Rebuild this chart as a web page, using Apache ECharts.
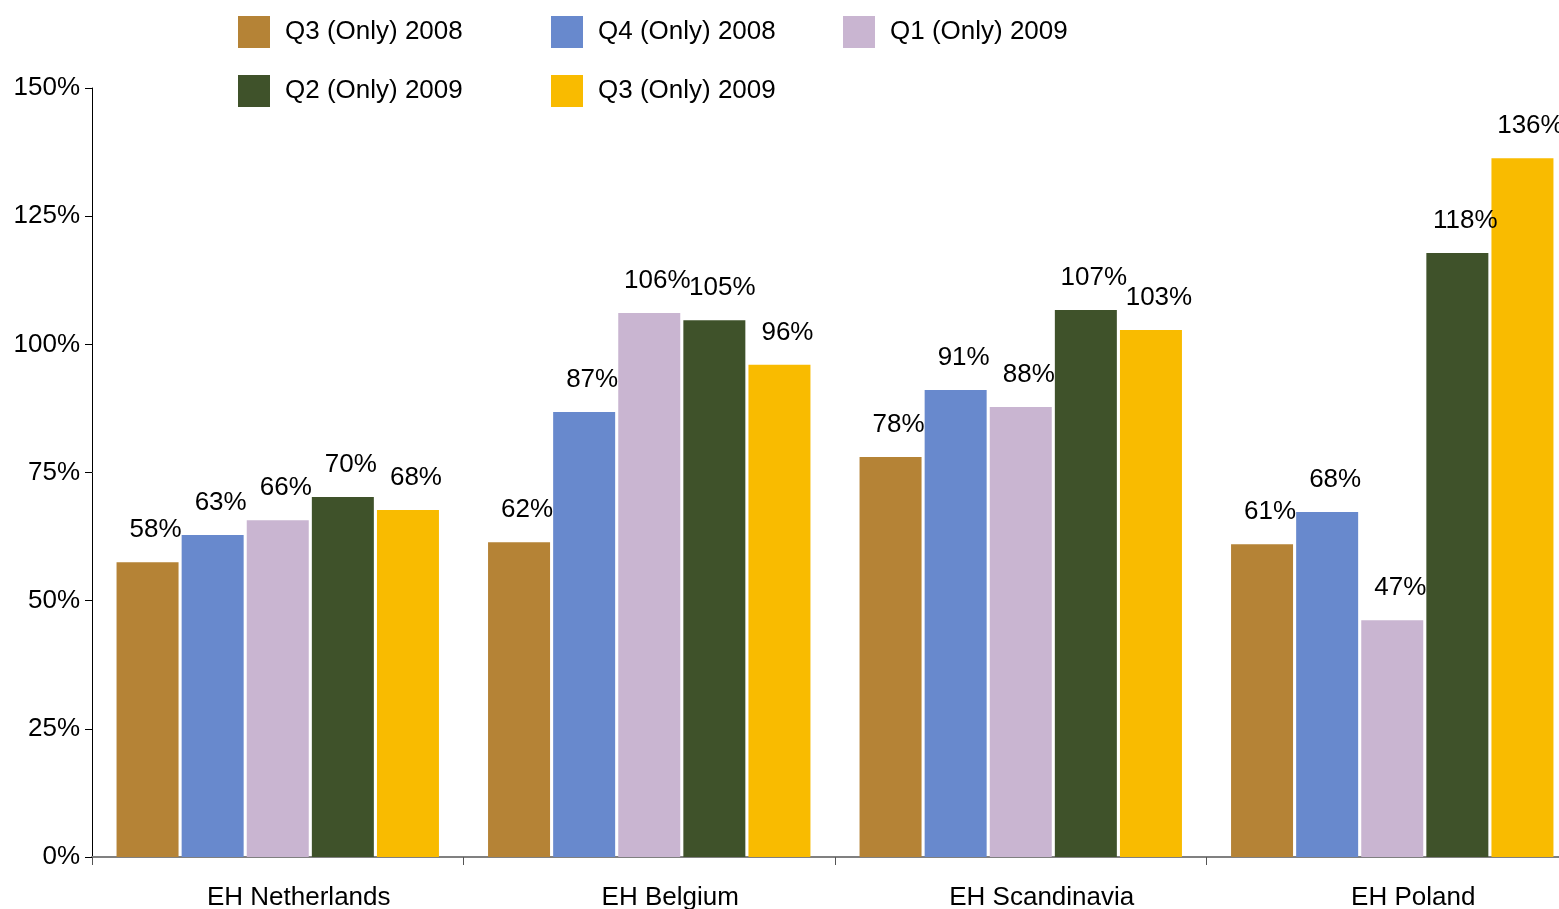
<!DOCTYPE html>
<html><head><meta charset="utf-8">
<script src="https://cdn.jsdelivr.net/npm/echarts@6/dist/echarts.min.js"></script>
<style>html,body{margin:0;padding:0;background:#fff;overflow:hidden;width:1559px;height:909px}#c{width:1580px;height:909px}</style>
</head><body><div id="c"></div>
<script>
const categories = ['EH Netherlands', 'EH Belgium', 'EH Scandinavia', 'EH Poland'];
const seriesNames = ['Q3 (Only) 2008', 'Q4 (Only) 2008', 'Q1 (Only) 2009', 'Q2 (Only) 2009', 'Q3 (Only) 2009'];
const q3_2008 = [57.5, 61.4, 78.0, 61.0];
const q4_2008 = [62.8, 86.8, 91.1, 67.3];
const q1_2009 = [65.7, 106.1, 87.8, 46.2];
const q2_2009 = [70.2, 104.7, 106.7, 117.8];
const q3_2009 = [67.7, 96.0, 102.8, 136.3];
const labelTexts = [
  ['58%', '62%', '78%', '61%'],
  ['63%', '87%', '91%', '68%'],
  ['66%', '106%', '88%', '47%'],
  ['70%', '105%', '107%', '118%'],
  ['68%', '96%', '103%', '136%']
];
const yTicks = [0, 25, 50, 75, 100, 125, 150];
const colors = ['#b58336', '#6889cd', '#c9b5d1', '#3f522a', '#f9bb00'];
const allData = [q3_2008, q4_2008, q1_2009, q2_2009, q3_2009];
const legendPos = [[238, 16], [551, 16], [843, 16], [238, 75], [551, 75]];

const FONT = 'Liberation Sans, Arial, sans-serif';
const chart = echarts.init(document.getElementById('c'), null, {renderer: 'canvas'});
chart.setOption({
  animation: false,
  backgroundColor: '#fff',
  textStyle: {fontFamily: FONT},
  legend: seriesNames.map((n, i) => ({
    data: [{name: n, icon: 'rect'}], left: legendPos[i][0], top: legendPos[i][1],
    itemWidth: 32, itemHeight: 32, itemGap: 0, padding: 0,
    textStyle: {fontSize: 26, color: '#000', fontFamily: FONT, padding: [0, 0, 0, 10]},
    selectedMode: false
  })),
  grid: {left: 92, top: 88, bottom: 52, right: 2, containLabel: false, outerBoundsMode: 'none'},
  xAxis: {
    type: 'category', data: categories,
    axisLine: {lineStyle: {color: '#808080', width: 2}},
    axisTick: {show: true, length: 8, lineStyle: {color: '#555'}},
    axisLabel: {fontSize: 26, color: '#000', margin: 25, fontFamily: FONT, padding: [3, 0, 0, 42]}
  },
  yAxis: {
    type: 'value', min: 0, max: 150, interval: 25,
    axisLine: {show: true, lineStyle: {color: '#000', width: 1}},
    axisTick: {show: true, length: 7, lineStyle: {color: '#000'}},
    splitLine: {show: false},
    axisLabel: {fontSize: 26, color: '#000', margin: 12, fontFamily: FONT,
      formatter: v => yTicks.includes(v) ? v + '%' : ''}
  },
  series: allData.map((d, i) => ({
    name: seriesNames[i], type: 'bar', data: d,
    barWidth: 62, barGap: '5%',
    itemStyle: {color: colors[i]},
    label: {
      show: true, position: 'top', distance: 5, offset: [8, -14],
      fontSize: 26, color: '#000', fontFamily: FONT,
      formatter: p => labelTexts[i][p.dataIndex]
    }
  }))
});
</script></body></html>
